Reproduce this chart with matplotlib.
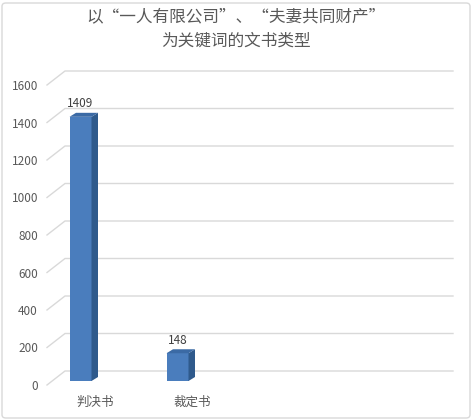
import matplotlib
matplotlib.use('Agg')
import matplotlib.pyplot as plt
from matplotlib.patches import Polygon, FancyBboxPatch

plt.rcParams['font.family'] = ['Noto Sans CJK SC', 'DejaVu Sans']

# 数据
categories = ['判决书', '裁定书']
counts = [1409, 148]
y_ticks = [0, 200, 400, 600, 800, 1000, 1200, 1400, 1600]
title_lines = ['以“一人有限公司”、“夫妻共同财产”', '为关键词的文书类型']

# 颜色
text_color = '#595959'
grid_color = '#d9d9d9'
front_color = '#4a7dbd'
side_color = '#2f5a8c'
top_color = '#3b6aa5'

# 像素换算 (图 473x420, dpi 100)
W, H = 473, 420
px_x = 97.0          # 每个类别的像素宽
px_y = 300.0 / 1600  # 每单位数值的像素高
ax_left, ax_right, ax_bottom, ax_top = 47, 465, 385, 85

fig = plt.figure(figsize=(W / 100, H / 100), dpi=100)
ax = fig.add_axes([ax_left / W, (H - ax_bottom) / H,
                   (ax_right - ax_left) / W, (ax_bottom - ax_top) / H])
ax.set_xlim(0, (ax_right - ax_left) / px_x)
ax.set_ylim(0, 1600)
for s in ax.spines.values():
    s.set_visible(False)

# 透视网格线: 左侧斜线 + 后墙横线
wall_dx = 18 / px_x
wall_dy = 14 / px_y
grid_end = (453 - ax_left) / px_x
for t in y_ticks:
    ax.plot([0, wall_dx, grid_end], [t, t + wall_dy, t + wall_dy],
            color=grid_color, lw=1.0, zorder=1, clip_on=False)

# 立体柱
xs = [i + 0.5 for i in range(len(categories))]
base = 4 / px_y
off = -26 / px_x
bw = 22 / px_x
ddx = 6.5 / px_x
ddy = 4 / px_y
ax.bar([x + off for x in xs], counts, width=bw, bottom=base, align='edge',
       color=front_color, zorder=3)
for x, v in zip(xs, counts):
    xl = x + off
    xr = xl + bw
    top = base + v
    side = Polygon([(xr, base), (xr, top), (xr + ddx, top + ddy), (xr + ddx, base + ddy)],
                   closed=True, facecolor=side_color, edgecolor='none', zorder=3)
    lid = Polygon([(xl, top), (xr, top), (xr + ddx, top + ddy), (xl + ddx, top + ddy)],
                  closed=True, facecolor=top_color, edgecolor='none', zorder=3)
    ax.add_patch(side)
    ax.add_patch(lid)
    ax.annotate(str(v), (xl + bw / 2, top), xytext=(0, 9.5), textcoords='offset points',
                ha='center', va='center', fontsize=8.5, color='#404040', zorder=4)

ax.set_yticks(y_ticks)
ax.set_yticklabels([str(t) for t in y_ticks])
ax.set_xticks(xs)
ax.set_xticklabels(categories)
ax.tick_params(axis='y', length=0, pad=6.5, labelsize=8.5, labelcolor=text_color)
ax.tick_params(axis='x', length=0, pad=8, labelsize=9, labelcolor=text_color)

# 标题
fig.text(236 / W, 1 - 17 / H, title_lines[0], ha='center', va='center',
         fontsize=12, color=text_color)
fig.text(236 / W, 1 - 41 / H, title_lines[1], ha='center', va='center',
         fontsize=12, color=text_color)

# 外框
fig.patches.append(FancyBboxPatch((2 / W, 2 / H), 1 - 5 / W, 1 - 5 / H,
                                  boxstyle='round,pad=0,rounding_size=0.008',
                                  transform=fig.transFigure, facecolor='none',
                                  edgecolor=grid_color, lw=1.0))

fig.savefig('out.png', dpi=100)
